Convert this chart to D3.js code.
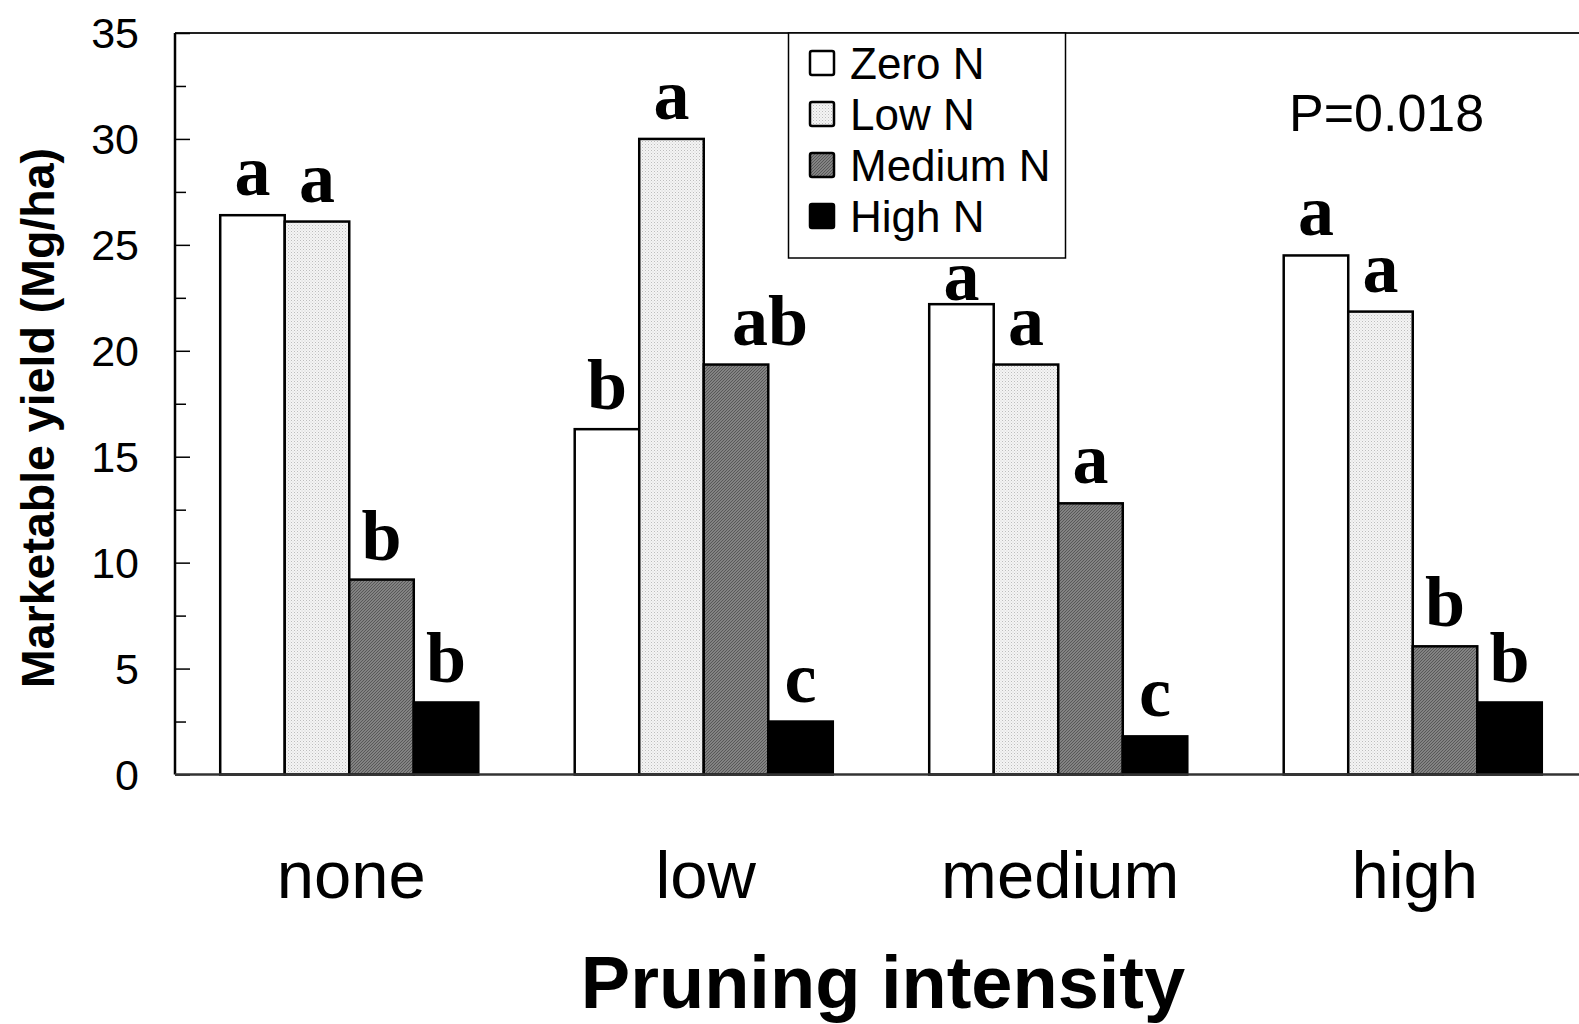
<!DOCTYPE html>
<html>
<head>
<meta charset="utf-8">
<script src="https://cdn.jsdelivr.net/npm/d3@7"></script>
<style>
  body { margin: 0; background: #fff; }
  svg { display: block; }
  text { font-family: "Liberation Sans", Arial, sans-serif; }
</style>
</head>
<body>
<svg width="1579" height="1024"></svg>
<script>
const pruning = ["none", "low", "medium", "high"];
const nLevels = ["Zero N", "Low N", "Medium N", "High N"];

// yield (Mg/ha), one array per N level, in pruning order
const zeroN = [26.4, 16.3, 22.2, 24.5];
const lowN = [26.1, 30.0, 19.35, 21.85];
const mediumN = [9.2, 19.35, 12.8, 6.05];
const highN = [3.4, 2.5, 1.8, 3.4];

// mean separation letters
const zeroLetters = ["a", "b", "a", "a"];
const lowLetters = ["a", "a", "a", "a"];
const mediumLetters = ["b", "ab", "a", "b"];
const highLetters = ["b", "c", "c", "b"];

const yTicks = [0, 5, 10, 15, 20, 25, 30, 35];
const pText = "P=0.018";

const svg = d3.select("svg");

// patterns for the fills
const defs = svg.append("defs");
const dots = defs.append("pattern")
    .attr("id", "dots").attr("patternUnits", "userSpaceOnUse")
    .attr("width", 3).attr("height", 3);
dots.append("rect").attr("width", 3).attr("height", 3).attr("fill", "#f4f4f4");
dots.append("rect").attr("width", 1).attr("height", 1).attr("fill", "#bdbdbd");
dots.append("rect").attr("x", 1.5).attr("y", 1.5).attr("width", 1).attr("height", 1).attr("fill", "#d0d0d0");

const hatch = defs.append("pattern")
    .attr("id", "hatch").attr("patternUnits", "userSpaceOnUse")
    .attr("width", 3).attr("height", 3);
hatch.append("rect").attr("width", 3).attr("height", 3).attr("fill", "#959595");
hatch.append("path").attr("d", "M0,3 L3,0 M-1,1 L1,-1 M2,4 L4,2")
    .attr("stroke", "#555").attr("stroke-width", 1.1);

const fills = ["#fff", "url(#dots)", "url(#hatch)", "#000"];

const plotLeft = 175, plotTop = 33, plotBottom = 774.5;
const legendBox = { x: 788.5, y: 33, w: 277, h: 225 };

const x = d3.scaleBand()
    .domain(pruning)
    .range([172, 1590])
    .paddingInner(0.272)
    .paddingOuter(0.136);

const xSub = d3.scaleBand()
    .domain(nLevels)
    .range([0, x.bandwidth()]);

const y = d3.scaleLinear()
    .domain([0, 35])
    .range([plotBottom, plotTop]);

const series = [
    { key: nLevels[0], values: zeroN, letters: zeroLetters },
    { key: nLevels[1], values: lowN, letters: lowLetters },
    { key: nLevels[2], values: mediumN, letters: mediumLetters },
    { key: nLevels[3], values: highN, letters: highLetters }
];

const rows = [];
series.forEach((s, si) => {
    pruning.forEach((p, pi) => {
        rows.push({ p, key: s.key, si, v: s.values[pi], letter: s.letters[pi] });
    });
});

// top frame line
svg.append("line")
    .attr("x1", plotLeft).attr("x2", 1579)
    .attr("y1", plotTop).attr("y2", plotTop)
    .attr("stroke", "#222").attr("stroke-width", 2);

// bars
svg.append("g")
    .selectAll("rect")
    .data(rows)
    .enter().append("rect")
    .attr("x", d => x(d.p) + xSub(d.key))
    .attr("y", d => y(d.v))
    .attr("width", xSub.bandwidth())
    .attr("height", d => y(0) - y(d.v))
    .attr("fill", d => fills[d.si])
    .attr("stroke", "#000")
    .attr("stroke-width", 2.5);

// letters; kept below the legend box where they would run into it
const letterX = d => x(d.p) + xSub(d.key) + xSub.bandwidth() / 2 + (d.letter.length > 1 ? 34 : 0);
const letterY = d => {
    const cx = letterX(d);
    let yy = y(d.v) - 20;
    if (cx > legendBox.x && cx < legendBox.x + legendBox.w) {
        yy = Math.max(yy, legendBox.y + legendBox.h + 42);
    }
    return yy;
};
svg.append("g")
    .selectAll("text")
    .data(rows)
    .enter().append("text")
    .attr("x", letterX)
    .attr("y", letterY)
    .attr("text-anchor", "middle")
    .style("font-family", "'Liberation Serif', 'Times New Roman', serif")
    .style("font-weight", "bold")
    .style("font-size", "72px")
    .text(d => d.letter);

// y axis with minor ticks inside the plot
const gy = svg.append("g")
    .attr("transform", `translate(${plotLeft},0)`)
    .call(d3.axisRight(y).tickValues(yTicks).tickSize(15).tickFormat(""));
gy.select(".domain").remove();
gy.selectAll(".tick line").attr("stroke", "#000").attr("stroke-width", 1.5);

svg.append("g")
    .attr("transform", `translate(${plotLeft},0)`)
    .call(d3.axisRight(y).tickValues(yTicks.slice(0, -1).map(v => v + 2.5)).tickSize(11).tickFormat(""))
    .call(g => g.select(".domain").remove())
    .selectAll(".tick line").attr("stroke", "#000").attr("stroke-width", 1.5);

svg.append("line")
    .attr("x1", plotLeft).attr("x2", plotLeft)
    .attr("y1", plotTop).attr("y2", plotBottom)
    .attr("stroke", "#000").attr("stroke-width", 2.5);

svg.append("g")
    .selectAll("text")
    .data(yTicks)
    .enter().append("text")
    .attr("x", 139)
    .attr("y", d => y(d))
    .attr("dy", "0.36em")
    .attr("text-anchor", "end")
    .style("font-size", "43px")
    .text(d => d);

// x axis line
svg.append("line")
    .attr("x1", plotLeft).attr("x2", 1579)
    .attr("y1", plotBottom).attr("y2", plotBottom)
    .attr("stroke", "#333").attr("stroke-width", 2.5);

svg.append("g")
    .selectAll("text")
    .data(pruning)
    .enter().append("text")
    .attr("x", d => x(d) + x.bandwidth() / 2 + 2)
    .attr("y", 898)
    .attr("text-anchor", "middle")
    .style("font-size", "67px")
    .text(d => d);

svg.append("text")
    .attr("x", 883).attr("y", 1008)
    .attr("text-anchor", "middle")
    .style("font-size", "74px")
    .style("font-weight", "bold")
    .text("Pruning intensity");

svg.append("text")
    .attr("transform", "translate(54,418) rotate(-90)")
    .attr("text-anchor", "middle")
    .style("font-size", "46.5px")
    .style("font-weight", "bold")
    .text("Marketable yield (Mg/ha)");

// legend
const legend = svg.append("g");
legend.append("rect")
    .attr("x", legendBox.x).attr("y", legendBox.y)
    .attr("width", legendBox.w).attr("height", legendBox.h)
    .attr("fill", "#fff")
    .attr("stroke", "#000").attr("stroke-width", 1.5);

const item = legend.selectAll("g.item")
    .data(nLevels)
    .enter().append("g")
    .attr("class", "item")
    .attr("transform", (d, i) => `translate(810,${63 + i * 51})`);

item.append("rect")
    .attr("x", 0).attr("y", -12)
    .attr("width", 24).attr("height", 24)
    .attr("rx", 2)
    .attr("fill", (d, i) => fills[i])
    .attr("stroke", "#000").attr("stroke-width", 2.5);

item.append("text")
    .attr("x", 40)
    .attr("dy", "0.36em")
    .style("font-size", "44px")
    .text(d => d);

svg.append("text")
    .attr("x", 1289).attr("y", 131)
    .style("font-size", "52px")
    .text(pText);
</script>
</body>
</html>
